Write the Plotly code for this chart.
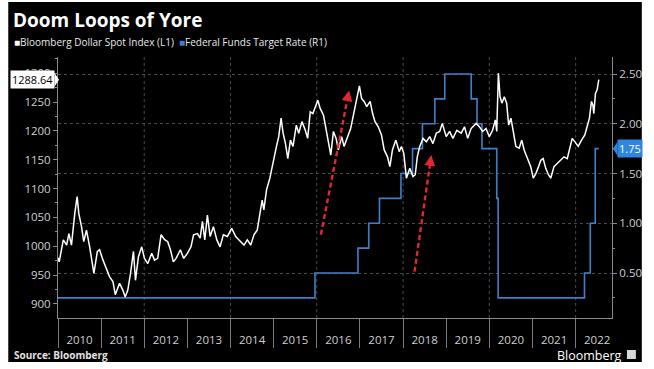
import plotly.graph_objects as go
import pandas as pd

# ---------------- data ----------------
bbdxy_dates = [
    "2010-01-01", "2010-01-11", "2010-02-15", "2010-03-15", "2010-04-03", "2010-04-25", "2010-05-23",
    "2010-06-12", "2010-06-26", "2010-07-19", "2010-08-07", "2010-08-30", "2010-09-26",
    "2010-10-16", "2010-11-01", "2010-11-30", "2010-12-19", "2011-01-17", "2011-02-15",
    "2011-03-14", "2011-04-11", "2011-05-01", "2011-06-06", "2011-07-04", "2011-07-24",
    "2011-08-15", "2011-09-07", "2011-10-02", "2011-10-19", "2011-11-13", "2011-12-11",
    "2012-01-03", "2012-01-31", "2012-03-05", "2012-03-28", "2012-04-24", "2012-05-23",
    "2012-06-20", "2012-07-18", "2012-08-10", "2012-09-04", "2012-09-27", "2012-11-02",
    "2012-11-30", "2013-01-02", "2013-01-31", "2013-02-22", "2013-03-27", "2013-04-19",
    "2013-05-08", "2013-05-28", "2013-06-19", "2013-07-12", "2013-08-09", "2013-09-07",
    "2013-10-04", "2013-11-01", "2013-12-05", "2014-01-11", "2014-02-14", "2014-03-28",
    "2014-04-25", "2014-05-23", "2014-06-21", "2014-07-18", "2014-08-15", "2014-09-07",
    "2014-09-26", "2014-10-10", "2014-11-02", "2014-11-30", "2014-12-19", "2015-01-11",
    "2015-01-25", "2015-02-13", "2015-03-05", "2015-03-22", "2015-04-11", "2015-05-01",
    "2015-05-23", "2015-06-14", "2015-07-12", "2015-08-01", "2015-08-29", "2015-09-26",
    "2015-10-16", "2015-11-07", "2015-11-29", "2016-01-10", "2016-01-30", "2016-02-27",
    "2016-03-26", "2016-04-09", "2016-04-29", "2016-05-21", "2016-06-13", "2016-07-02",
    "2016-07-30", "2016-08-19", "2016-09-16", "2016-10-14", "2016-11-06", "2016-12-04",
    "2016-12-27", "2017-01-15", "2017-02-05", "2017-02-27", "2017-03-28", "2017-04-18",
    "2017-05-08", "2017-06-05", "2017-07-02", "2017-07-25", "2017-08-22", "2017-09-11",
    "2017-10-03", "2017-11-01", "2017-11-29", "2017-12-18", "2018-01-07", "2018-01-29",
    "2018-02-27", "2018-03-26", "2018-04-14", "2018-05-01", "2018-05-22", "2018-06-19",
    "2018-07-17", "2018-08-14", "2018-09-11", "2018-10-09", "2018-11-07", "2018-11-29",
    "2019-01-01", "2019-01-30", "2019-02-27", "2019-04-01", "2019-05-08", "2019-06-05",
    "2019-07-02", "2019-07-31", "2019-09-11", "2019-10-09", "2019-11-06", "2019-12-04",
    "2020-01-01", "2020-01-29", "2020-02-21", "2020-03-04", "2020-03-18", "2020-04-01",
    "2020-04-17", "2020-05-07", "2020-05-27", "2020-06-13", "2020-07-02", "2020-07-22",
    "2020-08-13", "2020-09-10", "2020-10-02", "2020-10-22", "2020-11-19", "2020-12-17",
    "2021-01-07", "2021-01-29", "2021-02-21", "2021-03-12", "2021-04-01", "2021-04-23",
    "2021-05-16", "2021-06-04", "2021-07-02", "2021-07-30", "2021-08-27", "2021-09-24",
    "2021-10-22", "2021-11-10", "2021-12-03", "2021-12-26", "2022-01-23", "2022-02-20",
    "2022-03-20", "2022-04-08", "2022-04-28", "2022-05-15", "2022-05-27", "2022-06-04",
    "2022-06-18", "2022-07-02", "2022-07-16",
]
bbdxy_values = [
    980, 973, 1011, 1002, 1022, 1002, 1057,
    1086, 1057, 1034, 1008, 1028, 999,
    970, 953, 991, 994, 976, 962,
    947, 939, 916, 936, 924, 912,
    924, 953, 991, 941, 982, 999,
    979, 970, 988, 976, 979, 1020,
    1012, 1008, 994, 973, 979, 994,
    979, 988, 999, 1020, 1022, 1014,
    1043, 1011, 1054, 1017, 1034, 1011,
    999, 1020, 1017, 1031, 1017, 1008,
    1002, 1011, 1002, 1020, 1028, 1057,
    1080, 1063, 1098, 1118, 1138, 1161,
    1173, 1190, 1222, 1196, 1178, 1152,
    1184, 1173, 1210, 1196, 1216, 1201,
    1187, 1233, 1230, 1253, 1239, 1227,
    1196, 1181, 1158, 1199, 1187, 1167,
    1190, 1173, 1187, 1204, 1227, 1259,
    1278, 1256, 1251, 1242, 1251, 1230,
    1216, 1207, 1193, 1167, 1155, 1138,
    1167, 1184, 1164, 1173, 1161, 1118,
    1135, 1121, 1124, 1155, 1173, 1187,
    1181, 1190, 1178, 1196, 1199, 1213,
    1190, 1199, 1187, 1201, 1196, 1207,
    1187, 1204, 1213, 1207, 1199, 1204,
    1190, 1201, 1219, 1199, 1300, 1259,
    1248, 1259, 1248, 1210, 1222, 1199,
    1173, 1170, 1184, 1167, 1152, 1138,
    1118, 1126, 1138, 1149, 1152, 1135,
    1124, 1118, 1138, 1144, 1149, 1155,
    1152, 1167, 1187, 1181, 1173, 1184,
    1193, 1207, 1222, 1251, 1245, 1230,
    1265, 1271, 1288.64,
]

fed_dates = ["2010-01-01", "2015-12-17", "2016-12-15", "2017-03-16", "2017-06-15",
             "2017-12-14", "2018-03-22", "2018-06-14", "2018-09-27", "2018-12-20",
             "2019-08-01", "2019-09-19", "2019-10-31", "2020-03-04", "2020-03-16",
             "2022-03-17", "2022-05-05", "2022-06-16", "2022-07-16"]
fed_values = [0.25, 0.50, 0.75, 1.00, 1.25, 1.50, 1.75, 2.00, 2.25, 2.50,
              2.25, 2.00, 1.75, 1.25, 0.25, 0.50, 1.00, 1.75, 1.75]

left_ticks = [900, 950, 1000, 1050, 1100, 1150, 1200, 1250, 1300]
right_ticks = [0.50, 1.00, 1.50, 2.00, 2.50]
grid_years = ["2012-01-01", "2014-01-01", "2016-01-01", "2018-01-01", "2020-01-01", "2022-01-01"]

# red dashed arrows: (tail date, tail value, head date, head value)
arrows = [
    ("2016-02-05", 1020, "2016-10-01", 1270),
    ("2018-04-08", 956, "2018-08-28", 1158),
]

title_text = "Doom Loops of Yore"
leg1 = "Bloomberg Dollar Spot Index (L1)"
leg2 = "Federal Funds Target Rate (R1)"

# ---------------- layout geometry ----------------
W, H = 654, 369
ML, MR, MT, MB = 58, 39, 57, 51
PW, PH = W - ML - MR, H - MT - MB
X_RANGE = ["2010-01-01", "2022-11-05"]
L_RANGE = [875.7, 1328.0]
R_RANGE = [0.048, 2.671]


def px_x(px):
    return (px - ML) / PW


def px_y(py):
    return (H - MB - py) / PH


def date_to_px(d):
    t0, t1 = pd.Timestamp(X_RANGE[0]), pd.Timestamp(X_RANGE[1])
    return ML + (pd.Timestamp(d) - t0) / (t1 - t0) * PW


def left_to_py(v):
    return MT + (L_RANGE[1] - v) / (L_RANGE[1] - L_RANGE[0]) * PH


FONT = "Open Sans"
TICKC = "#cfcfcf"
AXC = "#8a8a8a"
GRIDC = "#4a4a4a"
WHITE = "#ffffff"
BLUE = "#3f80c8"
TAGBLUE = "#2f86e0"
RED = "#e3262f"

fig = go.Figure()

fig.add_trace(go.Scatter(
    x=fed_dates, y=fed_values, mode="lines", line=dict(color=BLUE, width=1.6, shape="hv"),
    yaxis="y", name=leg2, showlegend=False, hoverinfo="skip"))
fig.add_trace(go.Scatter(
    x=bbdxy_dates, y=bbdxy_values, mode="lines", line=dict(color=WHITE, width=1.5),
    yaxis="y2", name=leg1, showlegend=False, hoverinfo="skip"))

shapes = []
# black card background
shapes.append(dict(type="rect", xref="paper", yref="paper", layer="below",
                   x0=px_x(8), x1=px_x(645), y0=px_y(362), y1=px_y(2),
                   fillcolor="#000000", line=dict(width=0)))
# vertical gridlines every two years
for gy in grid_years:
    shapes.append(dict(type="line", xref="x", yref="paper", x0=gy, x1=gy, y0=0, y1=1,
                       line=dict(color=GRIDC, width=1, dash="dot"), layer="below"))

annotations = []
HEAD = 7
for (t0, v0, t1, v1) in arrows:
    x0p, y0p = date_to_px(t0), left_to_py(v0)
    x1p, y1p = date_to_px(t1), left_to_py(v1)
    dx, dy = x1p - x0p, y1p - y0p
    ln = (dx * dx + dy * dy) ** 0.5
    ux, uy = dx / ln, dy / ln
    frac = (ln - HEAD) / ln
    tm = pd.Timestamp(t0) + (pd.Timestamp(t1) - pd.Timestamp(t0)) * frac
    vm = v0 + (v1 - v0) * frac
    shapes.append(dict(type="line", xref="x", yref="y2", x0=t0, y0=v0, x1=tm, y1=vm,
                       line=dict(color=RED, width=2.4, dash="5px,3px")))
    annotations.append(dict(x=t1, y=v1, xref="x", yref="y2", ax=-ux * HEAD, ay=-uy * HEAD,
                            text="", showarrow=True, arrowhead=2, arrowsize=0.9,
                            arrowwidth=2.4, arrowcolor=RED, standoff=0))

# title and legend
annotations.append(dict(xref="paper", yref="paper", x=px_x(11), y=px_y(20), xanchor="left",
                        yanchor="middle", showarrow=False, text="<b>" + title_text + "</b>",
                        font=dict(family=FONT, size=19, color=WHITE)))
annotations.append(dict(xref="paper", yref="paper", x=px_x(12), y=px_y(42), xanchor="left",
                        yanchor="middle", showarrow=False,
                        text="<span style='color:#ffffff'>■</span>" + leg1 +
                             "  <span style='color:" + BLUE + "'>■</span>" + leg2,
                        font=dict(family=FONT, size=10, color="#e8e8e8")))
# source and logo
annotations.append(dict(xref="paper", yref="paper", x=px_x(12), y=px_y(355), xanchor="left",
                        yanchor="middle", showarrow=False, text="<b>Source: Bloomberg</b>",
                        font=dict(family=FONT, size=10, color="#e0e0e0")))
annotations.append(dict(xref="paper", yref="paper", x=px_x(627), y=px_y(355.5), xanchor="right",
                        yanchor="middle", showarrow=False, text="Bloomberg",
                        font=dict(family=FONT, size=12.5, color=WHITE)))
shapes.append(dict(type="rect", xref="paper", yref="paper",
                   x0=px_x(630), x1=px_x(639), y0=px_y(359), y1=px_y(350),
                   fillcolor="#d8d8d8", line=dict(width=0)))

# last value tags with pointers
last_bb = bbdxy_values[-1]
last_fed = fed_values[-1]
dv_l = 7 * (L_RANGE[1] - L_RANGE[0]) / PH
dv_r = 7 * (R_RANGE[1] - R_RANGE[0]) / PH
annotations.append(dict(xref="paper", yref="y2", x=px_x(55), y=last_bb, xanchor="right",
                        yanchor="middle", showarrow=False, text=f"{last_bb:.2f}",
                        bgcolor="#ffffff", borderpad=1,
                        font=dict(family=FONT, size=11, color="#000000")))
shapes.append(dict(type="path", xref="paper", yref="y2", fillcolor="#ffffff", line=dict(width=0),
                   path=f"M {px_x(54.5)},{last_bb + dv_l} L {px_x(59)},{last_bb} L {px_x(54.5)},{last_bb - dv_l} Z"))
annotations.append(dict(xref="paper", yref="y", x=px_x(620), y=last_fed, xanchor="left",
                        yanchor="middle", showarrow=False, text=f"{last_fed:.2f}",
                        bgcolor=TAGBLUE, borderpad=1,
                        font=dict(family=FONT, size=11, color="#ffffff")))
shapes.append(dict(type="path", xref="paper", yref="y", fillcolor=TAGBLUE, line=dict(width=0),
                   path=f"M {px_x(620.5)},{last_fed + dv_r} L {px_x(616)},{last_fed} L {px_x(620.5)},{last_fed - dv_r} Z"))

fig.update_layout(
    width=W, height=H,
    margin=dict(l=ML, r=MR, t=MT, b=MB, pad=0),
    paper_bgcolor="#ffffff",
    plot_bgcolor="#000000",
    showlegend=False,
    shapes=shapes,
    annotations=annotations,
    xaxis=dict(
        type="date", range=X_RANGE,
        dtick="M12", tick0="2010-01-01", tickformat="%Y", ticklabelmode="period",
        ticks="outside", ticklen=29, tickcolor="#7a7a7a", tickwidth=1,
        ticklabelstandoff=-18,
        showgrid=False, zeroline=False,
        showline=True, linecolor=AXC, linewidth=1,
        tickfont=dict(family=FONT, size=11.5, color=TICKC),
    ),
    yaxis=dict(
        side="right", range=R_RANGE,
        tickvals=right_ticks, ticktext=[f"{v:.2f}" for v in right_ticks],
        ticks="outside", ticklen=4, tickcolor=AXC,
        minor=dict(dtick=0.25, tick0=0, ticks="outside", ticklen=2, tickcolor=AXC, showgrid=False),
        showgrid=True, gridcolor=GRIDC, griddash="dot", gridwidth=1,
        zeroline=False, showline=True, linecolor=AXC, linewidth=1,
        tickfont=dict(family=FONT, size=11.5, color=TICKC),
    ),
    yaxis2=dict(
        side="left", overlaying="y", range=L_RANGE,
        tickvals=left_ticks, ticktext=[str(v) for v in left_ticks],
        ticks="outside", ticklen=4, tickcolor=AXC,
        minor=dict(dtick=25, tick0=0, ticks="outside", ticklen=2, tickcolor=AXC, showgrid=False),
        showgrid=False, zeroline=False, showline=True, linecolor=AXC, linewidth=1,
        tickfont=dict(family=FONT, size=11.5, color=TICKC),
    ),
)

fig.write_html("out.html", config={"displayModeBar": False},
               post_script="document.body.style.margin='0';document.body.style.overflow='hidden';")
